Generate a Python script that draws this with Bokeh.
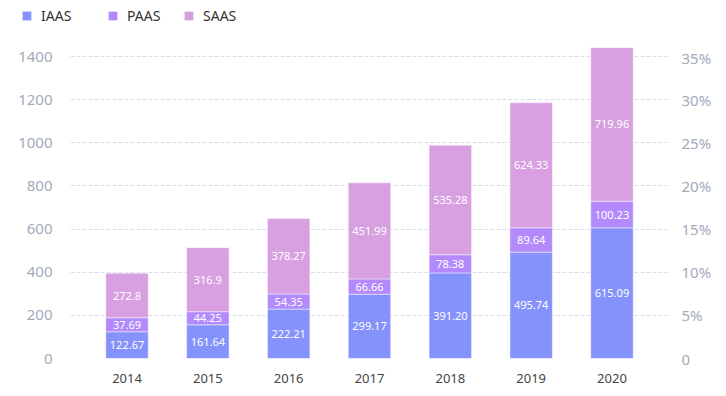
from bokeh.plotting import figure
from bokeh.layouts import column
from bokeh.models import (ColumnDataSource, FactorRange, Range1d, LinearAxis, FixedTicker,
                          CustomJSTickFormatter, Legend, LegendItem)
from bokeh.core.properties import value
from bokeh.embed import file_html
from bokeh.resources import INLINE
import numpy as np

years = ["2014", "2015", "2016", "2017", "2018", "2019", "2020"]
# bar heights as drawn in the picture
iaas = [124, 156, 229, 298, 397, 493, 606]
paas = [65, 61, 70, 71, 84, 113, 123]
saas = [206, 297, 350, 446, 508, 580, 713]
# value labels printed on the bars
iaas_labels = ["122.67", "161.64", "222.21", "299.17", "391.20", "495.74", "615.09"]
paas_labels = ["37.69", "44.25", "54.35", "66.66", "78.38", "89.64", "100.23"]
saas_labels = ["272.8", "316.9", "378.27", "451.99", "535.28", "624.33", "719.96"]
left_ticks = [0, 200, 400, 600, 800, 1000, 1200, 1400]
right_ticks = [0, 5, 10, 15, 20, 25, 30, 35]

series = ["IAAS", "PAAS", "SAAS"]
colors = ["#8592fb", "#b28afc", "#d8a0e1"]
FONT = "Noto Sans"

a = np.array(iaas, dtype=float); b = np.array(paas, dtype=float); c = np.array(saas, dtype=float)
total = a + b + c
ymax = float(total.max())

src = ColumnDataSource(dict(
    x=years, IAAS=iaas, PAAS=paas, SAAS=saas,
    y_i=a / 2, y_p=a + b / 2, y_s=a + b + c / 2,
    l_i=iaas_labels, l_p=paas_labels, l_s=saas_labels,
))

# ---- legend strip (zero-width bars outside the visible y-range; only the legend shows) ----
lg = figure(width=724, height=47, output_backend="svg", toolbar_location=None,
            x_range=FactorRange(*years), y_range=Range1d(-3000, -2000),
            x_axis_type=None, y_axis_type=None,
            min_border_left=0, min_border_right=0, min_border_top=0, min_border_bottom=0)
try:
    lg.frame_align = False
except Exception:
    pass
lg.outline_line_color = None
lg.xgrid.visible = False
lg.ygrid.visible = False
lrs = lg.vbar_stack(series, x="x", width=0, source=src, fill_color=colors, line_alpha=0)
legend_x = [21, 107, 183]
for s, r, lx in zip(series, lrs, legend_x):
    leg = Legend(items=[LegendItem(label=s, renderers=[r])], location=(lx, 22),
                 glyph_width=11, glyph_height=11, label_height=14,
                 label_standoff=9, padding=0, margin=0,
                 border_line_color=None, background_fill_alpha=0,
                 label_text_font=FONT, label_text_font_size="14px",
                 label_text_color="#333333")
    lg.add_layout(leg, "center")

# ---- main chart ----
p = figure(width=724, height=347, output_backend="svg", toolbar_location=None,
           x_range=FactorRange(*years, range_padding=0.0569, range_padding_units="percent"),
           y_range=Range1d(0, ymax),
           min_border_left=70, min_border_right=56, min_border_top=0, min_border_bottom=36)
try:
    p.frame_align = False
except Exception:
    pass
p.outline_line_color = None
p.background_fill_color = "white"
p.border_fill_color = "white"

rs = p.vbar_stack(series, x="x", width=0.525, source=src, color=colors,
                  line_color="white", line_alpha=0.45, line_width=1)

for ycol, lcol in (("y_i", "l_i"), ("y_p", "l_p"), ("y_s", "l_s")):
    p.text(x="x", y=ycol, text=lcol, source=src, text_color="white",
           text_font=value(FONT), text_font_size="11px",
           text_align="center", text_baseline="middle")

p.xaxis.axis_line_color = None
p.xaxis.major_tick_line_color = None
p.xaxis.minor_tick_line_color = None
p.xaxis.major_tick_out = 0
p.xaxis.major_label_text_font = FONT
p.xaxis.major_label_text_font_size = "13px"
p.xaxis.major_label_text_color = "#444444"
p.xaxis.major_label_standoff = 15
p.xgrid.grid_line_color = None

p.yaxis.ticker = FixedTicker(ticks=left_ticks)
p.yaxis.axis_line_color = None
p.yaxis.major_tick_line_color = None
p.yaxis.minor_tick_line_color = None
p.yaxis.major_tick_out = 0
p.yaxis.minor_tick_out = 0
p.yaxis.major_label_text_font = FONT
p.yaxis.major_label_text_font_size = "15px"
p.yaxis.major_label_text_color = "#a3aabb"
p.yaxis.major_label_standoff = 18
p.ygrid.ticker = FixedTicker(ticks=left_ticks)
p.ygrid.grid_line_color = "#dcdcef"
p.ygrid.grid_line_dash = "4 2"
p.ygrid.grid_line_width = 1

p.extra_y_ranges = {"pct": Range1d(0, ymax / 40.0)}
ra = LinearAxis(y_range_name="pct", ticker=FixedTicker(ticks=right_ticks),
                formatter=CustomJSTickFormatter(code="return tick == 0 ? '0' : tick + '%';"))
ra.axis_line_color = None
ra.major_tick_line_color = None
ra.minor_tick_line_color = None
ra.major_tick_out = 0
ra.minor_tick_out = 0
ra.major_label_text_font = FONT
ra.major_label_text_font_size = "15px"
ra.major_label_text_color = "#a3aabb"
ra.major_label_standoff = 13
p.add_layout(ra, "right")

layout = column(lg, p, spacing=0)
open("out.html", "w").write(file_html(layout, INLINE))
